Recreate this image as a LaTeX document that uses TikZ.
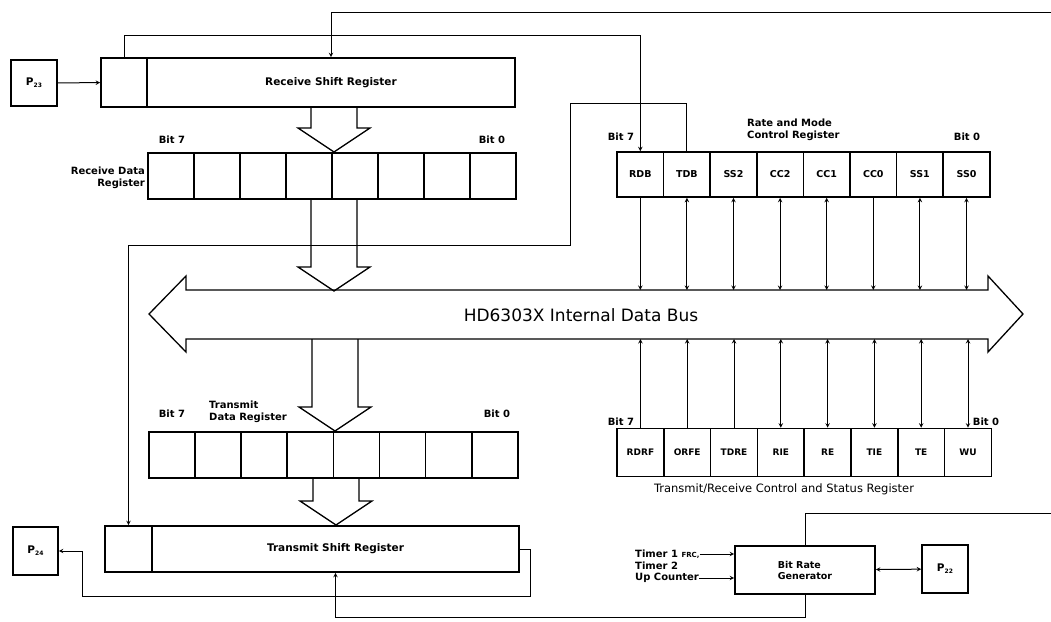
\documentclass[tikz,border=0pt]{standalone}
\usepackage{fontspec}
\setmainfont{DejaVu Sans}
\usetikzlibrary{positioning}
\tikzset{%
    box/.style={draw, line width=1.6pt, inner sep=0pt, font=\fontsize{10.5}{12}\selectfont\bfseries},
    cell/.style={box, minimum width=46pt, minimum height=46pt, font=\fontsize{9.5}{10}\selectfont\bfseries},
    lbl/.style={inner sep=0pt, font=\fontsize{10}{12}\selectfont\bfseries},
    sig/.style={line width=1pt, >=stealth},
    wide/.style={line width=1.3pt, line join=miter}
}
\newcommand{\wideflow}[3]{%
    \draw[wide] ({#1-23},#2) -- ({#1-23},{#3-24}) -- ({#1-36},{#3-24}) -- (#1,#3)
        -- ({#1+36},{#3-24}) -- ({#1+23},{#3-24}) -- ({#1+23},#2);}
\newcommand{\pin}[1]{P\raisebox{-2pt}{\fontsize{6}{6}\selectfont #1}}

\begin{document}
\begin{tikzpicture}[x=1pt, y=-1pt]
    \useasboundingbox (0,0) rectangle (1051,621);
%-----------------------------------------------
    \draw[wide] (149,314) -- (186,276) -- (186,290) -- (988,290) -- (988,276) -- (1023,314)
        -- (988,352) -- (988,339) -- (186,339) -- (186,352) -- cycle;
    \coordinate (bustop) at (0,290);
    \coordinate (busbot) at (0,339);
    \node[font=\fontsize{17}{20}\selectfont] (buslbl) at (581,315) {HD6303X Internal Data Bus};
%-----------------------------------------------
    \node[box, minimum width=46pt, minimum height=46pt] (p23) at (34,83) {\pin{23}};
    \node[box, minimum width=46pt, minimum height=49pt] (rsrbit) at (124,82.5) {};
    \node[box, minimum width=368pt, minimum height=49pt] (rsr) at (331,82.5) {Receive Shift Register};
    \foreach \i in {1,...,8}
        \node[cell] (rdr-\i) at ({171+46*(\i-1)},176) {};
    \node[lbl, align=right, anchor=east] (rdrlbl) at (145,178) {Receive Data\\Register};
    \node[lbl] (rdrb7) at (172,140) {Bit 7};
    \node[lbl] (rdrb0) at (492,140) {Bit 0};
%-----------------------------------------------
    \foreach \i in {1,...,8}
        \node[cell] (tdr-\i) at ({172+46.1*(\i-1)},455) {};
    \node[lbl, align=left, anchor=west] (tdrlbl) at (209,412) {Transmit\\Data Register};
    \node[lbl] (tdrb7) at (172,414) {Bit 7};
    \node[lbl] (tdrb0) at (497,414) {Bit 0};
    \node[box, minimum width=47pt, minimum height=46pt] (tsrbit) at (128.5,549) {};
    \node[box, minimum width=367pt, minimum height=46pt] (tsr) at (335.5,549) {Transmit Shift Register};
    \node[box, minimum width=45pt, minimum height=48pt] (p24) at (35.5,551) {\pin{24}};
%-----------------------------------------------
    \foreach \i/\t in {1/RDB,2/TDB,3/SS2,4/CC2,5/CC1,6/CC0,7/SS1,8/SS0}
        \node[cell, minimum width=46.6pt, minimum height=45pt] (rmcr-\i) at ({640.3+46.6*(\i-1)},174.5) {\t};
    \node[lbl, align=left, anchor=west] (rmcrlbl) at (747,130) {Rate and Mode\\Control Register};
    \node[lbl] (rmcrb7) at (621,137) {Bit 7};
    \node[lbl] (rmcrb0) at (967,137) {Bit 0};
    \foreach \i/\t in {1/RDRF,2/ORFE,3/TDRE,4/RIE,5/RE,6/TIE,7/TE,8/WU}
        \node[cell, minimum width=46.8pt, minimum height=48pt, font=\fontsize{9}{10}\selectfont\bfseries] (trcsr-\i) at ({640.4+46.8*(\i-1)},452.5) {\t};
    \node[lbl, font=\fontsize{11.5}{12}\selectfont] (trcsrlbl) at (784,489) {Transmit/Receive Control and Status Register};
    \node[lbl] (trcsrb7) at (621,422) {Bit 7};
    \node[lbl] (trcsrb0) at (986,422) {Bit 0};
%-----------------------------------------------
    \node[box, minimum width=140pt, minimum height=48pt, align=left, font=\fontsize{9.5}{11}\selectfont\bfseries] (brg) at (805,570) {Bit Rate\\Generator};
    \node[box, minimum width=46pt, minimum height=48pt] (p22) at (945,569) {\pin{22}};
    \node[lbl, anchor=west] (frc) at (635,554) {Timer 1 {\fontsize{7}{8}\selectfont FRC,}};
    \node[lbl, anchor=west] (tmr2) at (635,566) {Timer 2};
    \node[lbl, anchor=west] (upc) at (635,578) {Up Counter};
%-----------------------------------------------
    \wideflow{334}{107}{152}
    \wideflow{334}{199}{291}
    \wideflow{335}{339}{431}
    \wideflow{336}{478}{525}
%-----------------------------------------------
    \draw[sig,->] (p23) -- (rsrbit);
    \draw[sig,->] (rsrbit.north) -- (rsrbit.north |- 0,35) -| (rmcr-1.north);
    \coordinate (rxclk) at (1051,12);
    \draw[sig,->] (rxclk) -| (rsr.north);
    \draw[sig,->] (rmcr-2.north) -- (rmcr-2.north |- 0,103) -| (570,245) -| (tsrbit.north);
    \draw[sig,->] (tsr.east) -- ++(11,0) |- (82,596) |- (p24.east);
    \draw[sig,->] (brg.south) -- (brg.south |- 0,617) -| (tsr.south);
    \coordinate (txclk) at (1051,513);
    \draw[sig] (brg.north) |- (txclk);
    \draw[sig,<->] (brg) -- (p22);
    \draw[sig,->] (frc.east) -- (frc.east -| brg.west);
    \draw[sig,->] (upc.east) -- (upc.east -| brg.west);
%-----------------------------------------------
    \foreach \i in {1,6}
        \draw[sig,->] (rmcr-\i.south) -- (rmcr-\i.south |- bustop);
    \foreach \i in {2,3,4,5,7,8}
        \draw[sig,<->] (rmcr-\i.south) -- (rmcr-\i.south |- bustop);
    \foreach \i in {1,2,3}
        \draw[sig,->] (trcsr-\i.north) -- (trcsr-\i.north |- busbot);
    \foreach \i in {4,...,8}
        \draw[sig,<->] (trcsr-\i.north) -- (trcsr-\i.north |- busbot);
\end{tikzpicture}
\end{document}
